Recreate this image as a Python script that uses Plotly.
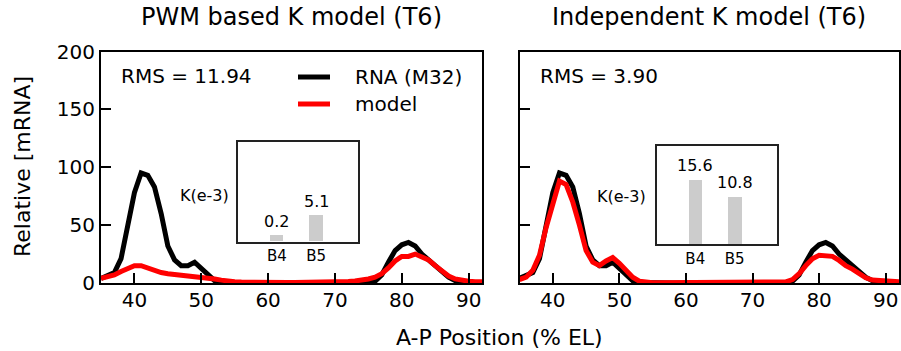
import plotly.graph_objects as go

# A-P position grid (% egg length)
positions = list(range(35, 93))

# Measured RNA profile (M32), shared by both panels
rna_m32 = [4, 6, 9, 21, 50, 78, 95, 93, 83, 60, 32, 20, 15, 15, 18, 13, 7, 2, 0.5, 0.2,
           0, 0, 0, 0, 0, 0, 0, 0, 0, 0, 0, 0, 0, 0, 0, 0, 0, 0, 0, 0,
           0.3, 1.5, 7, 18, 28, 33, 35, 32, 25, 20, 15, 10, 5, 2, 1, 0.5, 0.3, 0.2]

# PWM based K model prediction
model_pwm = [4, 5, 7, 10, 13, 15, 15, 13, 10, 9, 8, 7.5, 6.5, 6, 5.5, 5, 4.5, 3.5, 2.5, 1.5,
             1, 0.8, 0.6, 0.5, 0.5, 0.4, 0.4, 0.4, 0.4, 0.4, 0.4, 0.4, 0.5, 0.5, 0.6, 0.8, 1, 1.3, 1.7, 2.3,
             3.5, 5, 8, 13, 19, 23, 23, 25, 22, 20, 15, 11, 6, 3.5, 2, 1.5, 1, 1]

# Independent K model prediction
model_ind = [3, 5, 11, 24, 48, 68, 88, 85, 70, 50, 28, 18, 15, 19, 22, 17, 11, 5, 1.5, 0.5,
             0.2, 0.2, 0.2, 0.2, 0.2, 0.2, 0.2, 0.2, 0.2, 0.2, 0.2, 0.2, 0.2, 0.2, 0.2, 0.2, 0.2, 0.2, 0.2, 0.2,
             1, 3, 8, 15, 21, 24, 24, 23, 19.5, 15, 12, 8, 4.5, 2.5, 2, 1.5, 1, 1]

# Binding constants K (x1e-3) for the two sites
sites = ["B4", "B5"]
k_pwm = [0.2, 5.1]
k_ind = [15.6, 10.8]

rms_pwm = 11.94
rms_ind = 3.90

titles = ["PWM based K model (T6)", "Independent K model (T6)"]

W, H = 901, 351
FONT = "DejaVu Sans"


def px(x):
    return x / W


def py(y):
    return 1 - y / H


fig = go.Figure()

# main profile traces
for xa, ya, model in (("x", "y", model_pwm), ("x2", "y2", model_ind)):
    fig.add_trace(go.Scatter(x=positions, y=rna_m32, mode="lines", xaxis=xa, yaxis=ya,
                             line=dict(color="black", width=5), showlegend=False,
                             name="RNA (M32)"))
    fig.add_trace(go.Scatter(x=positions, y=model, mode="lines", xaxis=xa, yaxis=ya,
                             line=dict(color="red", width=5), showlegend=False,
                             name="model"))

# inset bar charts; bars rise from the floor of each inset
inset_specs = [("x3", "y3", k_pwm, -1.3, 23.1), ("x4", "y4", k_ind, -2.6, 25.2)]
for xa, ya, vals, floor, top in inset_specs:
    fig.add_trace(go.Bar(x=sites, y=[v - floor for v in vals], base=floor, xaxis=xa, yaxis=ya,
                         width=0.35, marker=dict(color="#cccccc", line=dict(width=0)),
                         showlegend=False))
    for s, v in zip(sites, vals):
        fig.add_annotation(x=s, y=v, xref=xa, yref=ya, text=f"{v}", showarrow=False,
                           yanchor="middle", yshift=14,
                           font=dict(family=FONT, size=16, color="black"))

main_y_dom = [py(283), py(51.5)]
axis_common = dict(showline=True, mirror=True, linecolor="black", linewidth=2,
                   ticks="inside", ticklen=10, tickwidth=1.5, tickcolor="black",
                   showgrid=False, zeroline=False, automargin=False,
                   tickfont=dict(family=FONT, size=20, color="black"))

fig.update_layout(
    width=W, height=H, autosize=False,
    margin=dict(l=0, r=0, t=0, b=0, pad=0, autoexpand=False),
    paper_bgcolor="white", plot_bgcolor="white",
    font=dict(family=FONT, color="black"),
    bargap=0,
    xaxis=dict(domain=[px(101), px(482)], range=[35, 92], anchor="y",
               tickvals=[40, 50, 60, 70, 80, 90], ticklabelstandoff=-2, **axis_common),
    yaxis=dict(domain=main_y_dom, range=[0, 200], anchor="x",
               tickvals=[0, 50, 100, 150, 200], **axis_common),
    xaxis2=dict(domain=[px(519.5), px(899)], range=[35, 92], anchor="y2",
                tickvals=[40, 50, 60, 70, 80, 90], ticklabelstandoff=-2, **axis_common),
    yaxis2=dict(domain=main_y_dom, range=[0, 200], anchor="x2",
                tickvals=[0, 50, 100, 150, 200], showticklabels=False, **axis_common),
)

inset_axis = dict(showline=True, mirror=True, linecolor="#222222", linewidth=1.5,
                  showgrid=False, zeroline=False, automargin=False)
fig.update_layout(
    xaxis3=dict(domain=[px(238.3), px(358.3)], anchor="y3", range=[-0.98, 2.07],
                ticks="", ticklabelstandoff=0,
                tickfont=dict(family=FONT, size=15, color="black"), **inset_axis),
    yaxis3=dict(domain=[py(241.7), py(142.3)], anchor="x3", range=[-1.3, 23.1],
                showticklabels=False, ticks="", **inset_axis),
    xaxis4=dict(domain=[px(656.7), px(776.7)], anchor="y4", range=[-0.98, 2.07],
                ticks="", ticklabelstandoff=0,
                tickfont=dict(family=FONT, size=15, color="black"), **inset_axis),
    yaxis4=dict(domain=[py(244.3), py(146)], anchor="x4", range=[-2.6, 25.2],
                showticklabels=False, ticks="", **inset_axis),
)

# panel titles
for cx, t in zip((291.5, 709), titles):
    fig.add_annotation(x=px(cx), y=py(17), xref="paper", yref="paper", text=t,
                       showarrow=False, xanchor="center", yanchor="middle",
                       font=dict(family=FONT, size=24, color="black"))

# RMS labels
for lx, r in zip((119, 537.5), (rms_pwm, rms_ind)):
    fig.add_annotation(x=px(lx), y=py(76), xref="paper", yref="paper",
                       text=f"RMS = {r:.2f}", showarrow=False,
                       xanchor="left", yanchor="middle",
                       font=dict(family=FONT, size=20, color="black"))

# K(e-3) labels beside the insets
for rx, cy in ((231, 195), (648, 196)):
    fig.add_annotation(x=px(rx), y=py(cy), xref="paper", yref="paper", text="K(e-3)",
                       showarrow=False, xanchor="right", yanchor="middle",
                       font=dict(family=FONT, size=16, color="black"))

# legend
for ly, color, label in ((77, "black", "RNA (M32)"), (104, "red", "model")):
    fig.add_shape(type="line", xref="paper", yref="paper",
                  x0=px(298), x1=px(330), y0=py(ly), y1=py(ly),
                  line=dict(color=color, width=5))
    fig.add_annotation(x=px(353), y=py(ly), xref="paper", yref="paper", text=label,
                       showarrow=False, xanchor="left", yanchor="middle",
                       font=dict(family=FONT, size=20, color="black"))

# shared axis titles
fig.add_annotation(x=px(500), y=py(337), xref="paper", yref="paper",
                   text="A-P Position (% EL)", showarrow=False,
                   xanchor="center", yanchor="middle",
                   font=dict(family=FONT, size=22, color="black"))
fig.add_annotation(x=px(22), y=py(167), xref="paper", yref="paper",
                   text="Relative [mRNA]", showarrow=False, textangle=-90,
                   xanchor="center", yanchor="middle",
                   font=dict(family=FONT, size=22, color="black"))

fig.write_html("out.html")
